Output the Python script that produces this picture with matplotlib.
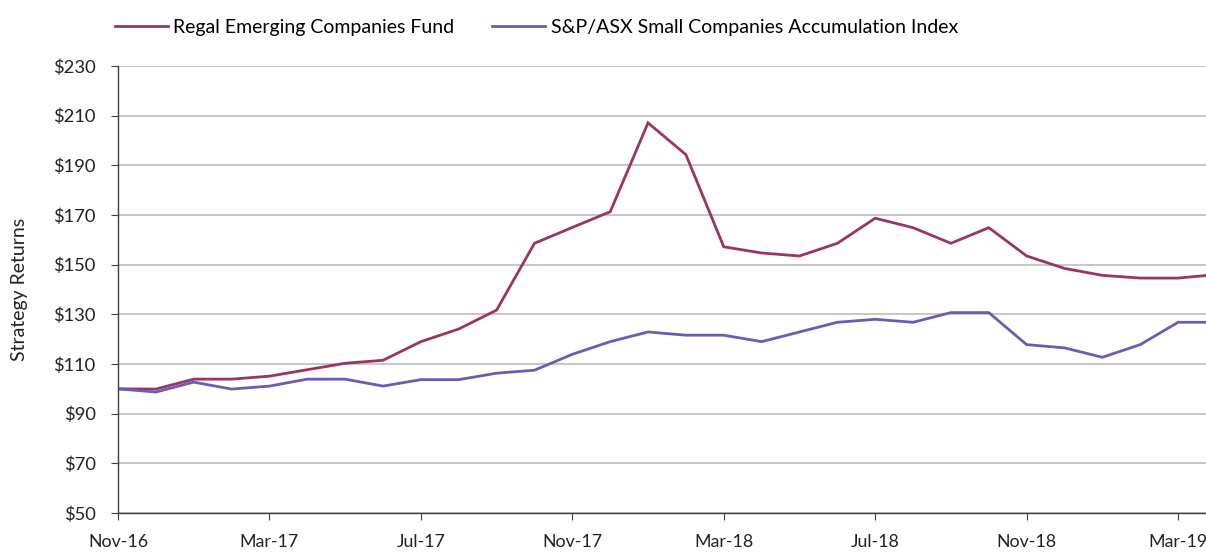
import matplotlib
matplotlib.use("Agg")
import matplotlib.pyplot as plt

plt.rcParams['font.family'] = ['Lato', 'DejaVu Sans']

months = ["Nov-16", "Dec-16", "Jan-17", "Feb-17", "Mar-17", "Apr-17", "May-17", "Jun-17",
          "Jul-17", "Aug-17", "Sep-17", "Oct-17", "Nov-17", "Dec-17", "Jan-18", "Feb-18",
          "Mar-18", "Apr-18", "May-18", "Jun-18", "Jul-18", "Aug-18", "Sep-18", "Oct-18",
          "Nov-18", "Dec-18", "Jan-19", "Feb-19", "Mar-19", "Apr-19"]
regal = [100.0, 99.9, 103.9, 103.9, 105.1, 107.7, 110.3, 111.5,
         119.0, 124.1, 131.7, 158.6, 165.0, 171.3, 207.1, 194.3,
         157.2, 154.7, 153.5, 158.6, 168.7, 164.9, 158.6, 164.9,
         153.5, 148.5, 145.7, 144.6, 144.6, 146.0]
index = [100.0, 98.7, 102.7, 99.9, 101.1, 103.9, 103.9, 101.1,
         103.7, 103.7, 106.3, 107.5, 113.9, 119.0, 122.9, 121.6,
         121.6, 119.0, 122.9, 126.8, 128.0, 126.8, 130.7, 130.7,
         117.8, 116.5, 112.7, 117.8, 126.8, 126.8]
series_names = ["Regal Emerging Companies Fund", "S&P/ASX Small Companies Accumulation Index"]
tick_labels = ["Nov-16", "Mar-17", "Jul-17", "Nov-17", "Mar-18", "Jul-18", "Nov-18", "Mar-19"]
y_ticks = [50, 70, 90, 110, 130, 150, 170, 190, 210, 230]

red = "#9A3463"
purple = "#6A5CB3"

fig = plt.figure(figsize=(12.06, 5.52), dpi=100)
ax = fig.add_axes([118/1206, 1-513/552, (1206-118)/1206, (513-66)/552])

x = list(range(len(months)))
ax.plot(x, regal, color=red, lw=2.0, label=series_names[0], solid_joinstyle='miter')
ax.plot(x, index, color=purple, lw=2.0, label=series_names[1], solid_joinstyle='miter')

ax.set_xlim(0, (1206-118)/37.86)
ax.set_ylim(50, 230)
ax.set_yticks(y_ticks)
ax.set_yticklabels([f"${v}" for v in y_ticks])
ax.set_xticks([months.index(t) for t in tick_labels])
ax.set_xticklabels(tick_labels)

ax.grid(axis='y', color='#BDBDBD', lw=1.2)
ax.set_axisbelow(True)
for s in ['top', 'right']:
    ax.spines[s].set_visible(False)
for s in ['left', 'bottom']:
    ax.spines[s].set_color('#404040')
    ax.spines[s].set_linewidth(1.0)
ax.tick_params(axis='both', colors='#404040', labelcolor='#222222', labelsize=13.2, length=5, direction='out')
ax.tick_params(axis='x', pad=10, labelsize=12.8)
ax.tick_params(axis='y', pad=11)

ax.set_ylabel("Strategy Returns", fontsize=14, color='#222222')
ax.yaxis.set_label_coords(-0.083, 0.5)

leg = fig.legend(loc='upper left', bbox_to_anchor=(115/1206, 1-19/552), ncol=2, frameon=False,
                 fontsize=14, handlelength=2.7, columnspacing=1.95, handletextpad=0.3,
                 borderpad=0, borderaxespad=0)

fig.savefig("out.png", dpi=100)
